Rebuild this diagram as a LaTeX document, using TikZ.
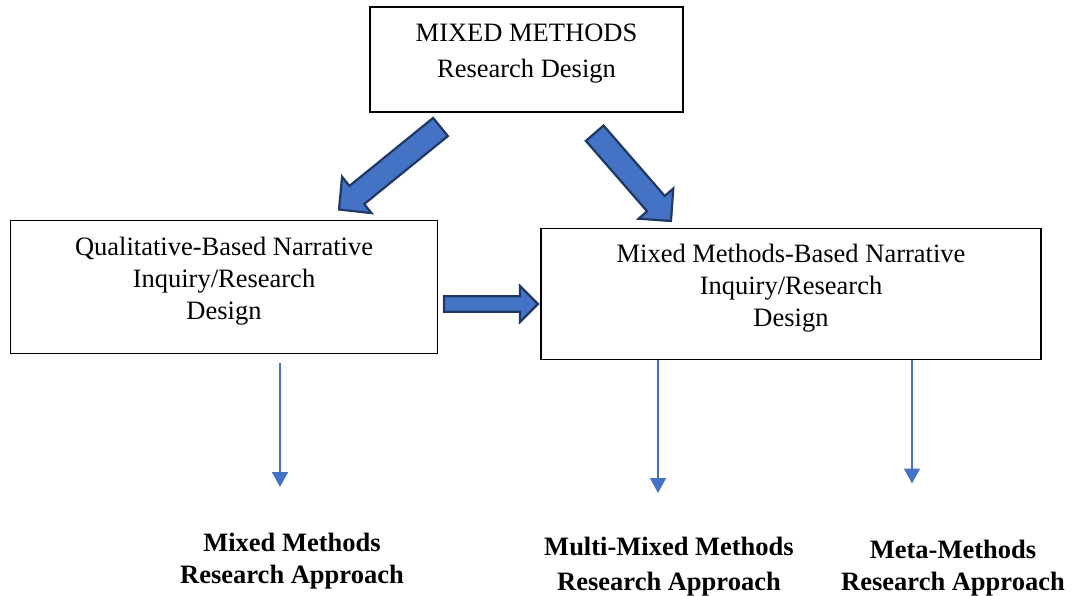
\documentclass[tikz,border=0pt]{standalone}
\usepackage{fontspec}
\setmainfont{Liberation Serif}
\usetikzlibrary{calc,arrows.meta}

\definecolor{shapeblue}{HTML}{4472C4}
\definecolor{shapeedge}{HTML}{203864}

% Thick Office-style block arrow: tail #1, tip #2, shaft half-width #3,
% head half-width #4, head length #5
\newcommand\blockarrow[5]{%
  \coordinate (ba-neck) at ($(#2)!#5!(#1)$);
  \draw[blockarrow]
    ($(#1)!#3!90:(#2)$) -- ($(ba-neck)!#3!90:(#2)$) -- ($(ba-neck)!#4!90:(#2)$)
    -- (#2) -- ($(ba-neck)!#4!-90:(#2)$) -- ($(ba-neck)!#3!-90:(#2)$)
    -- ($(#1)!#3!-90:(#2)$) -- cycle;}

\begin{document}
\begin{tikzpicture}[x=1pt,y=-1pt,
  box/.style={draw=black, line width=1.2pt, fill=white, inner sep=0pt},
  boxtext/.style={align=center, font=\fontsize{26.5}{32}\selectfont},
  result/.style={align=center, font=\bfseries\fontsize{26.5}{32}\selectfont},
  blockarrow/.style={fill=shapeblue, draw=shapeedge, line width=2.2pt, line join=miter},
  thinarrow/.style={draw=shapeblue, line width=1.5pt,
    -{Triangle[width=16pt,length=15pt]}}]

\useasboundingbox (0,0) rectangle (1072,596);

% Boxes
\node[box, minimum width=313pt, minimum height=105pt] (design) at (526.5,59.5) {};
\node[box, minimum width=427.5pt, minimum height=133pt] (qual) at (224,287) {};
\node[box, minimum width=500pt, minimum height=131pt] (mixed) at (791,294) {};

\node[boxtext, font=\fontsize{26.5}{36}\selectfont] (designtxt) at ($(design.center)+(0,-6)$)
  {MIXED METHODS\\Research Design};
\node[boxtext] (qualtxt) at ($(qual.center)+(0,-6)$)
  {Qualitative-Based Narrative\\Inquiry/Research\\Design};
\node[boxtext] (mixedtxt) at ($(mixed.center)+(0,-5.5)$)
  {Mixed Methods-Based Narrative\\Inquiry/Research\\Design};

% Block arrows
\coordinate (la-tail) at (440.5,127);
\coordinate (la-tip)  at (339,209.5);
\coordinate (ra-tail) at (594.7,133.2);
\coordinate (ra-tip)  at (671,221);
\coordinate (ha-tail) at (444,304);
\coordinate (ha-tip)  at (538,304);
\blockarrow{la-tail}{la-tip}{11.7pt}{23.4pt}{23pt}
\blockarrow{ra-tail}{ra-tip}{11.7pt}{23pt}{23pt}
\blockarrow{ha-tail}{ha-tip}{7.8pt}{18pt}{18pt}

% Approaches
\node[result] (mmra) at (292,561) {Mixed Methods\\Research Approach};
\node[result, font=\bfseries\fontsize{26.5}{35}\selectfont] (mmmra) at (669,566.5) {Multi-Mixed Methods\\Research Approach};
\node[result] (metara) at (953,568) {Meta-Methods\\Research Approach};

% Thin arrows
\coordinate (q-start) at (280,363);
\coordinate (q-end)   at (280,487);
\coordinate (m-end)   at (658,493);
\coordinate (t-end)   at (912,483.5);
\draw[thinarrow] (q-start) -- (q-end);
\draw[thinarrow] (mixed.south -| m-end) -- (m-end);
\draw[thinarrow] (mixed.south -| t-end) -- (t-end);

\end{tikzpicture}
\end{document}
